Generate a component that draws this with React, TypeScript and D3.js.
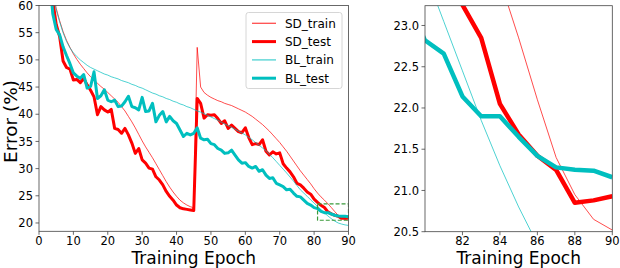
import React from "react";
import * as d3 from "d3";

const sdTrain = [95, 82, 70, 63, 59.5, 57.2, 55.2, 53.6, 52.3, 51.1, 50.1, 49.2, 48.4, 47.6, 46.9, 46.3, 45.7, 45.1, 44.6, 44.0, 43.4, 42.8, 42.2, 41.4, 40.6, 39.6, 38.6, 37.5, 36.3, 35.1, 34.0, 33.0, 32.0, 30.9, 29.8, 28.7, 27.6, 26.6, 25.7, 24.9, 24.2, 23.7, 23.3, 23.0, 22.8, 52.3, 45.0, 44.0, 43.5, 43.1, 42.8, 42.5, 42.3, 42.0, 41.8, 41.6, 41.3, 41.0, 40.7, 40.4, 40.0, 39.6, 39.1, 38.6, 38.1, 37.5, 36.9, 36.2, 35.5, 34.8, 34.0, 33.2, 32.3, 31.4, 30.5, 29.6, 28.8, 28.0, 27.2, 26.3, 25.5, 24.8, 24.2, 23.55, 22.85, 22.1, 21.4, 20.95, 20.65, 20.52];
const sdTest = [92, 80, 70, 61, 56.5, 54.3, 49.8, 48.6, 48.3, 46.3, 46.4, 45.8, 46.6, 45.4, 44.4, 43.2, 39.9, 41.4, 40.8, 40.4, 40.9, 37.4, 37.2, 36.5, 37.4, 36.2, 34.7, 32.8, 33.7, 31.6, 31.0, 30.1, 29.9, 28.5, 27.9, 27.0, 25.8, 24.9, 24.2, 23.3, 22.8, 22.6, 22.5, 22.4, 22.3, 42.9, 42.0, 39.3, 39.9, 39.8, 39.9, 39.2, 38.3, 38.8, 37.4, 38.0, 37.4, 36.8, 36.6, 37.5, 35.7, 34.4, 34.6, 34.4, 35.3, 33.2, 32.5, 33.1, 32.7, 32.9, 30.9, 30.1, 29.4, 28.5, 27.3, 27.0, 26.4, 25.7, 25.3, 24.4, 23.8, 23.25, 22.85, 22.05, 21.68, 21.42, 21.25, 20.85, 20.88, 20.93];
const blTrain = [93, 80, 69, 62, 59.2, 57.0, 55.0, 53.4, 52.2, 51.3, 50.6, 50.0, 49.5, 49.0, 48.6, 48.3, 48.0, 47.7, 47.4, 47.2, 46.9, 46.7, 46.5, 46.2, 46.0, 45.8, 45.5, 45.3, 45.0, 44.8, 44.5, 44.2, 43.9, 43.7, 43.4, 43.2, 42.9, 42.7, 42.4, 42.2, 41.9, 41.7, 41.4, 41.2, 40.9, 40.6, 40.4, 40.1, 39.8, 39.5, 39.2, 38.9, 38.55, 38.2, 37.9, 37.6, 37.25, 36.9, 36.55, 36.2, 35.75, 35.3, 34.8, 34.3, 33.8, 33.3, 32.65, 32.0, 31.3, 30.6, 29.9, 29.2, 28.45, 27.7, 26.9, 26.1, 25.5, 24.9, 24.25, 23.65, 23.05, 22.45, 21.85, 21.3, 20.8, 20.35, 20.0, 19.8, 19.65, 19.55];
const blTest = [90, 78, 66, 58.5, 55.6, 54.6, 52.4, 50.8, 49.3, 47.6, 47.0, 46.6, 47.3, 44.8, 45.1, 47.8, 42.9, 43.4, 44.5, 42.6, 42.3, 42.6, 41.4, 41.5, 42.3, 43.3, 41.4, 41.2, 40.8, 43.1, 40.5, 40.6, 42.0, 38.6, 39.8, 40.5, 38.6, 39.6, 38.8, 38.3, 37.1, 35.9, 36.5, 36.2, 36.5, 37.5, 35.6, 35.3, 35.4, 34.6, 34.4, 33.7, 33.4, 32.8, 32.9, 33.4, 32.5, 31.6, 31.0, 31.1, 30.4, 30.1, 30.4, 29.5, 29.8, 28.8, 28.2, 28.3, 27.3, 27.0, 26.7, 26.1, 26.2, 25.5, 24.9, 24.8, 24.2, 23.6, 23.3, 22.82, 22.66, 22.14, 21.9, 21.9, 21.65, 21.42, 21.28, 21.25, 21.24, 21.16];

const epochs = sdTrain.map((_, i) => i + 1);

const leftXTicks = [0, 10, 20, 30, 40, 50, 60, 70, 80, 90];
const leftYTicks = [20, 25, 30, 35, 40, 45, 50, 55, 60];
const rightXTicks = [82, 84, 86, 88, 90];
const rightYTicks = [20.5, 21.0, 21.5, 22.0, 22.5, 23.0];
const zoomBox = { x0: 81, x1: 90, y0: 20.5, y1: 23.5 };

const seriesDefs = [
  { name: "SD_train", values: sdTrain, color: "#ff0000", thin: true, opacity: 0.7 },
  { name: "SD_test", values: sdTest, color: "#ff0000", thin: false, opacity: 1 },
  { name: "BL_train", values: blTrain, color: "#00bfbf", thin: true, opacity: 0.7 },
  { name: "BL_test", values: blTest, color: "#00bfbf", thin: false, opacity: 1 },
];

const FONT = "DejaVu Sans";

function Panel({ id, x, y, xDomain, yDomain, xTicks, yTicks, yFmt, thickW, children }: any) {
  const sx = d3.scaleLinear().domain(xDomain).range([x[0], x[1]]);
  const sy = d3.scaleLinear().domain(yDomain).range([y[1], y[0]]);
  const line = d3
    .line<number>()
    .x((_, i) => sx(epochs[i]))
    .y((d) => sy(d));
  return (
    <g>
      <defs>
        <clipPath id={id}>
          <rect x={x[0]} y={y[0]} width={x[1] - x[0]} height={y[1] - y[0]} />
        </clipPath>
      </defs>
      <g clipPath={`url(#${id})`}>
        {seriesDefs.map((s) => (
          <path
            key={s.name}
            d={line(s.values) || ""}
            fill="none"
            stroke={s.color}
            strokeOpacity={s.opacity}
            strokeWidth={s.thin ? 1 : thickW}
            strokeLinejoin="round"
          />
        ))}
        {children && children(sx, sy)}
      </g>
      <rect x={x[0]} y={y[0]} width={x[1] - x[0]} height={y[1] - y[0]} fill="none" stroke="#444" strokeWidth={0.8} />
      {xTicks.map((t: number) => (
        <g key={"x" + t}>
          <line x1={sx(t)} x2={sx(t)} y1={y[1]} y2={y[1] + 3.5} stroke="#444" strokeWidth={0.8} />
          <text x={sx(t)} y={y[1] + 13.3} fontSize={11.5} textAnchor="middle" fontFamily={FONT}>
            {t}
          </text>
        </g>
      ))}
      {yTicks.map((t: number) => (
        <g key={"y" + t}>
          <line x1={x[0] - 3.5} x2={x[0]} y1={sy(t)} y2={sy(t)} stroke="#444" strokeWidth={0.8} />
          <text x={x[0] - 6} y={sy(t) + 4.2} fontSize={11.5} textAnchor="end" fontFamily={FONT}>
            {yFmt(t)}
          </text>
        </g>
      ))}
      <text x={(x[0] + x[1]) / 2} y={264} fontSize={17} textAnchor="middle" fontFamily={FONT}>
        Training Epoch
      </text>
    </g>
  );
}

export default function App() {
  const legendY0 = 23.3;
  const legendDy = 18.3;
  return (
    <div style={{ position: "absolute", left: 0, top: 0 }}>
      <svg width={620} height={268} style={{ display: "block", background: "#fff" }}>
        <Panel
          id="clipL"
          x={[39, 348.5]}
          y={[5.5, 231.3]}
          xDomain={[0, 90]}
          yDomain={[18.47, 60]}
          xTicks={leftXTicks}
          yTicks={leftYTicks}
          yFmt={(t: number) => String(t)}
          thickW={3}
        >
          {(sx: any, sy: any) => (
            <rect
              x={sx(zoomBox.x0)}
              y={sy(zoomBox.y1)}
              width={sx(zoomBox.x1) - sx(zoomBox.x0)}
              height={sy(zoomBox.y0) - sy(zoomBox.y1)}
              fill="none"
              stroke="#3a9a3a"
              strokeWidth={1.2}
              strokeDasharray="4,2"
            />
          )}
        </Panel>
        <Panel
          id="clipR"
          x={[425, 612.3]}
          y={[5.7, 231.7]}
          xDomain={[80, 90]}
          yDomain={[20.5, 23.24]}
          xTicks={rightXTicks}
          yTicks={rightYTicks}
          yFmt={(t: number) => t.toFixed(1)}
          thickW={4.5}
        />
        <text
          transform={`translate(16.5,121.5) rotate(-90)`}
          fontSize={18.5}
          textAnchor="middle"
          fontFamily={FONT}
        >
          Error (%)
        </text>
        <g>
          <rect x={246} y={12.5} width={96} height={76} rx={2.5} fill="#fff" fillOpacity={0.8} stroke="#cccccc" strokeWidth={0.8} />
          {seriesDefs.map((s, i) => (
            <g key={s.name}>
              <line
                x1={252}
                x2={276}
                y1={legendY0 + i * legendDy}
                y2={legendY0 + i * legendDy}
                stroke={s.color}
                strokeOpacity={s.opacity}
                strokeWidth={s.thin ? 1.3 : 3}
              />
              <text x={285} y={legendY0 + i * legendDy + 4.3} fontSize={12} fontFamily={FONT}>
                {s.name}
              </text>
            </g>
          ))}
        </g>
      </svg>
    </div>
  );
}
